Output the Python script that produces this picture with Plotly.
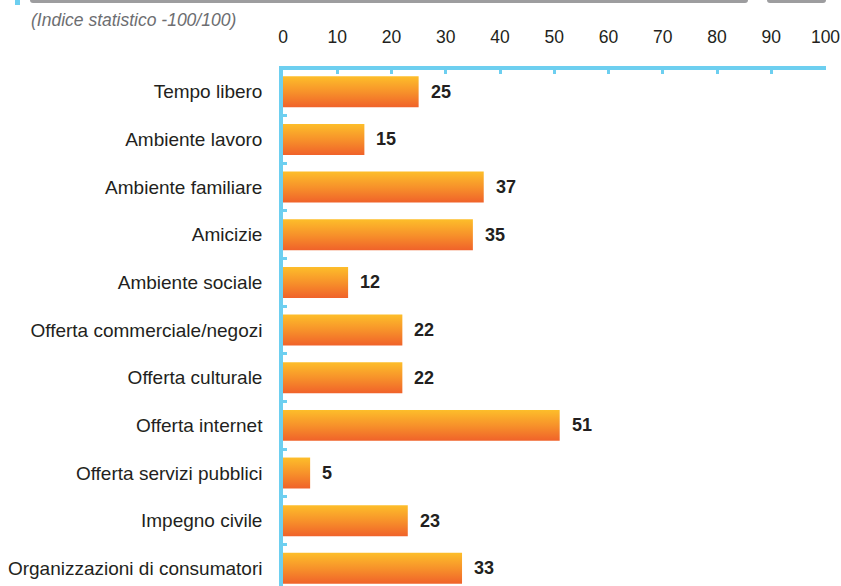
import plotly.graph_objects as go

# Indice statistico (-100/100) per ambito
categorie = [
    "Tempo libero",
    "Ambiente lavoro",
    "Ambiente familiare",
    "Amicizie",
    "Ambiente sociale",
    "Offerta commerciale/negozi",
    "Offerta culturale",
    "Offerta internet",
    "Offerta servizi pubblici",
    "Impegno civile",
    "Organizzazioni di consumatori",
]
valori = [25, 15, 37, 35, 12, 22, 22, 51, 5, 23, 33]
tick_x = [0, 10, 20, 30, 40, 50, 60, 70, 80, 90, 100]
sottotitolo = "(Indice statistico -100/100)"

W, H = 841, 586
M_TOP = 70
PLOT_H = H - M_TOP
BLU = "#6DCFF0"
TESTO = "#231F20"
FONT = "Liberation Sans, Arial, sans-serif"
BAR_H = 0.65


def px_x(px):
    return px / W


def px_y(py):
    return (H - py) / PLOT_H


fig = go.Figure()

# Barre con sfumatura verticale giallo -> arancio
for i, v in enumerate(valori):
    y0, y1 = i - BAR_H / 2, i + BAR_H / 2
    fig.add_trace(go.Scatter(
        x=[0, v, v, 0, 0],
        y=[y0, y0, y1, y1, y0],
        mode="lines",
        fill="toself",
        line=dict(width=0, color="rgba(0,0,0,0)"),
        fillgradient=dict(
            type="vertical",
            colorscale=[[0, "#FDBE2A"], [0.5, "#F7922A"], [1, "#F0622A"]],
            start=y0,
            stop=y1,
        ),
        name=categorie[i],
        hoverinfo="text",
        text=f"{categorie[i]}: {v}",
        showlegend=False,
    ))

# Etichette di valore
for i, v in enumerate(valori):
    fig.add_annotation(
        x=v, y=i, xref="x", yref="y",
        text=f"<b>{v}</b>", showarrow=False,
        xanchor="left", yanchor="middle", xshift=10,
        font=dict(family=FONT, size=18, color=TESTO),
    )

# Sottotitolo
fig.add_annotation(
    x=px_x(29), y=px_y(20), xref="paper", yref="paper",
    text=f"<i>{sottotitolo}</i>", showarrow=False,
    xanchor="left", yanchor="middle",
    font=dict(family=FONT, size=17.5, color="#6D6E71"),
)


def rounded_bottom(x0, x1, y0, y1, r):
    # rettangolo con angoli inferiori arrotondati, in pixel
    pts = (
        f"M {px_x(x0)},{px_y(y0)} L {px_x(x1)},{px_y(y0)} "
        f"L {px_x(x1)},{px_y(y1 - r)} Q {px_x(x1)},{px_y(y1)} {px_x(x1 - r)},{px_y(y1)} "
        f"L {px_x(x0 + r)},{px_y(y1)} Q {px_x(x0)},{px_y(y1)} {px_x(x0)},{px_y(y1 - r)} Z"
    )
    return pts


shapes = [
    dict(type="path", xref="paper", yref="paper",
         path=rounded_bottom(30, 748, 0, 3, 3),
         fillcolor="#9D9D9F", line=dict(width=0), layer="above"),
    dict(type="path", xref="paper", yref="paper",
         path=rounded_bottom(767, 826, 0, 3, 3),
         fillcolor="#9D9D9F", line=dict(width=0), layer="above"),
    dict(type="rect", xref="paper", yref="paper",
         x0=px_x(15), x1=px_x(20), y0=px_y(5), y1=px_y(0),
         fillcolor=BLU, line=dict(width=0), layer="above"),
]

fig.update_layout(
    width=W, height=H,
    margin=dict(l=0, r=0, t=M_TOP, b=0, pad=0, autoexpand=False),
    paper_bgcolor="white",
    plot_bgcolor="white",
    shapes=shapes,
    showlegend=False,
    xaxis=dict(
        domain=[px_x(283), px_x(825.5)],
        range=[0, 100],
        side="top",
        tickmode="array",
        tickvals=tick_x,
        ticktext=[str(t) for t in tick_x],
        ticks="inside",
        ticklen=4,
        tickwidth=3,
        tickcolor=BLU,
        showline=True,
        linecolor=BLU,
        linewidth=3.5,
        showgrid=False,
        zeroline=False,
        automargin=False,
        ticklabelstandoff=16,
        ticklabeloverflow="allow",
        tickfont=dict(family=FONT, size=17.5, color=TESTO),
        fixedrange=True,
    ),
    yaxis=dict(
        range=[10.371, -0.4575],
        tickmode="array",
        tickvals=list(range(len(categorie))),
        ticktext=categorie,
        ticks="inside",
        ticklen=4,
        tickwidth=3,
        tickcolor="rgba(0,0,0,0)",
        minor=dict(
            tickmode="array",
            tickvals=[i + 0.5 for i in range(len(categorie) - 1)],
            ticks="inside",
            ticklen=4,
            tickwidth=3,
            tickcolor=BLU,
            showgrid=False,
        ),
        showline=True,
        linecolor=BLU,
        linewidth=3.5,
        showgrid=False,
        zeroline=False,
        automargin=False,
        ticklabelstandoff=13,
        ticklabeloverflow="allow",
        tickfont=dict(family=FONT, size=19, color=TESTO),
        fixedrange=True,
    ),
)

fig.write_html("out.html")
